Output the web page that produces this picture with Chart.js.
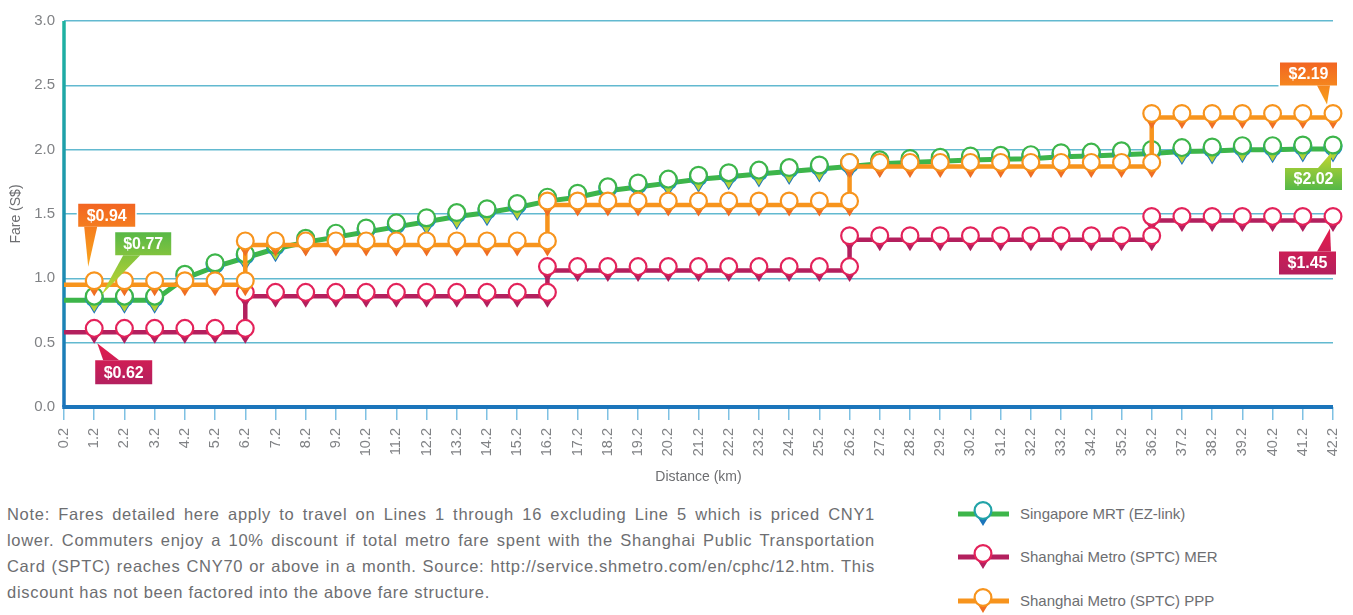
<!DOCTYPE html>
<html>
<head>
<meta charset="utf-8">
<title>Metro fares by distance</title>
<script src="https://cdn.jsdelivr.net/npm/chart.js@4.4.0/dist/chart.umd.min.js"></script>
<style>
    body {
        margin: 0;
        background: #fff;
        width: 1353px;
        height: 615px;
        overflow: hidden;
        position: relative;
        font-family: "Liberation Sans", Arial, sans-serif;
        color: #6d6e71;
    }
    #chartBox {
        position: absolute;
        left: 0;
        top: 0;
        width: 1353px;
        height: 490px;
    }
    #note {
        position: absolute;
        left: 7px;
        top: 501px;
        width: 868px;
        font-size: 16.5px;
        letter-spacing: 0.7px;
        line-height: 26px;
    }
    #note div {
        text-align: justify;
        text-align-last: justify;
        white-space: nowrap;
    }
    #note div.last {
        text-align-last: left;
    }
    .leg-icon {
        position: absolute;
        left: 955px;
        width: 60px;
        height: 40px;
    }
    .leg-text {
        position: absolute;
        left: 1020px;
        font-size: 15px;
        line-height: 20px;
        white-space: nowrap;
    }
</style>
</head>
<body>
<div id="chartBox"><canvas id="fareChart"></canvas></div>

<div id="note">
    <div>Note: Fares detailed here apply to travel on Lines 1 through 16 excluding Line 5 which is priced CNY1</div>
    <div>lower. Commuters enjoy a 10% discount if total metro fare spent with the Shanghai Public Transportation</div>
    <div>Card (SPTC) reaches CNY70 or above in a month. Source: http://service.shmetro.com/en/cphc/12.htm. This</div>
    <div class="last">discount has not been factored into the above fare structure.</div>
</div>

<canvas class="leg-icon" id="leg0" width="60" height="40" style="top:494px"></canvas>
<div class="leg-text" style="top:504px">Singapore MRT (EZ-link)</div>
<canvas class="leg-icon" id="leg1" width="60" height="40" style="top:537px"></canvas>
<div class="leg-text" style="top:547px">Shanghai Metro (SPTC) MER</div>
<canvas class="leg-icon" id="leg2" width="60" height="40" style="top:581px"></canvas>
<div class="leg-text" style="top:591px">Shanghai Metro (SPTC) PPP</div>

<script>
// Distance categories (km)
const distances = ['0.2', '1.2', '2.2', '3.2', '4.2', '5.2', '6.2', '7.2', '8.2', '9.2',
    '10.2', '11.2', '12.2', '13.2', '14.2', '15.2', '16.2', '17.2', '18.2', '19.2',
    '20.2', '21.2', '22.2', '23.2', '24.2', '25.2', '26.2', '27.2', '28.2', '29.2',
    '30.2', '31.2', '32.2', '33.2', '34.2', '35.2', '36.2', '37.2', '38.2', '39.2',
    '40.2', '41.2', '42.2'];

// Fares (S$)
const mrtFares = [0.83, 0.83, 0.83, 0.83, 1.00, 1.09, 1.16, 1.23, 1.28, 1.32,
    1.36, 1.40, 1.44, 1.48, 1.51, 1.55, 1.60, 1.63, 1.68, 1.71,
    1.74, 1.77, 1.79, 1.81, 1.83, 1.85, 1.87, 1.89, 1.90, 1.91,
    1.92, 1.925, 1.93, 1.945, 1.95, 1.96, 1.97, 1.985, 1.99, 2.00,
    2.00, 2.005, 2.005];
const merFares = [0.58, 0.58, 0.58, 0.58, 0.58, 0.58, 0.58, 0.86, 0.86, 0.86,
    0.86, 0.86, 0.86, 0.86, 0.86, 0.86, 0.86, 1.06, 1.06, 1.06,
    1.06, 1.06, 1.06, 1.06, 1.06, 1.06, 1.06, 1.30, 1.30, 1.30,
    1.30, 1.30, 1.30, 1.30, 1.30, 1.30, 1.30, 1.45, 1.45, 1.45,
    1.45, 1.45, 1.45];
const pppFares = [0.95, 0.95, 0.95, 0.95, 0.95, 0.95, 0.95, 1.26, 1.26, 1.26,
    1.26, 1.26, 1.26, 1.26, 1.26, 1.26, 1.26, 1.57, 1.57, 1.57,
    1.57, 1.57, 1.57, 1.57, 1.57, 1.57, 1.57, 1.87, 1.87, 1.87,
    1.87, 1.87, 1.87, 1.87, 1.87, 1.87, 1.87, 2.25, 2.25, 2.25,
    2.25, 2.25, 2.25];

const seriesNames = ['Singapore MRT (EZ-link)', 'Shanghai Metro (SPTC) MER', 'Shanghai Metro (SPTC) PPP'];

// Value callouts: which series / point they belong to and the printed text
const calloutSeries = [2, 0, 1, 2, 0, 1];
const calloutIndex = [1, 1, 1, 42, 42, 42];
const calloutText = ['$0.94', '$0.77', '$0.62', '$2.19', '$2.02', '$1.45'];

// Callout placement relative to their point (pixels)
const calloutLayout = [
    { box: [-16, -81, 57, 23], base: [6, 19, 'bottom'], tip: [-6, -18], colors: ['#f26522', '#f9a61a'] },
    { box: [21, -68, 56, 23], base: [8, 25, 'bottom'], tip: [7, -5], colors: ['#58b847', '#c8d62f'] },
    { box: [1, 28, 57, 24], base: [8, 24, 'top'], tip: [3, 11], colors: ['#e31b4d', '#b3205f'] },
    { box: [-53, -55, 57, 23], base: [37, 50, 'bottom'], tip: [-6, -13], colors: ['#f26522', '#f8a11b'] },
    { box: [-48, 19, 57, 22], base: [33, 46, 'top'], tip: [-2, 4], colors: ['#c3d62f', '#55b848'] },
    { box: [-54, 31, 57, 23], base: [38, 52, 'top'], tip: [-3, 8], colors: ['#e51c4c', '#b3205e'] }
];

// Pin marker colours per series
const pinStyles = [
    { ring: '#3db54a', tipTop: '#7dc243', tipBottom: '#c8d630', under: '#1b75bb' },
    { ring: '#e3225a', tipTop: '#c21f5b', tipBottom: '#ad1f5f' },
    { ring: '#f7941d', tipTop: '#f47b20', tipBottom: '#ee6a23' }
];

// Draw one map-pin marker, (x, cy) is the circle centre
function drawPin(ctx, x, cy, ring, tipTop, tipBottom) {
    const grad = ctx.createLinearGradient(0, cy, 0, cy + 16);
    grad.addColorStop(0, tipTop);
    grad.addColorStop(1, tipBottom);
    ctx.beginPath();
    ctx.moveTo(x - 7, cy + 4);
    ctx.lineTo(x + 7, cy + 4);
    ctx.lineTo(x, cy + 15.5);
    ctx.closePath();
    ctx.fillStyle = grad;
    ctx.fill();

    ctx.beginPath();
    ctx.arc(x, cy, 8.4, 0, Math.PI * 2);
    ctx.fillStyle = '#fff';
    ctx.fill();
    ctx.lineWidth = 2.2;
    ctx.strokeStyle = ring;
    ctx.stroke();
}

function drawSeriesPin(ctx, x, y, st) {
    const cy = y - 4;
    if (st.under) {
        ctx.beginPath();
        ctx.moveTo(x - 7.5, cy + 5);
        ctx.lineTo(x + 7.5, cy + 5);
        ctx.lineTo(x, cy + 17.5);
        ctx.closePath();
        ctx.fillStyle = st.under;
        ctx.fill();
        ctx.beginPath();
        ctx.arc(x, cy + 1.5, 8.6, 0, Math.PI * 2);
        ctx.lineWidth = 2;
        ctx.strokeStyle = '#1b8fbf';
        ctx.stroke();
    }
    drawPin(ctx, x, cy, st.ring, st.tipTop, st.tipBottom);
}

// Pins on every point except the first, plus an extra pin where a stepped line jumps
const pinPlugin = {
    id: 'pins',
    afterDatasetDraw(chart, args) {
        const ds = chart.data.datasets[args.index];
        const st = pinStyles[args.index];
        const ctx = chart.ctx;
        const yScale = chart.scales.y;
        ctx.save();
        args.meta.data.forEach((pt, i) => {
            if (i === 0) return;
            const data = ds.data;
            if (ds.stepped && i < data.length - 1 && data[i + 1] !== data[i]) {
                drawSeriesPin(ctx, pt.x, yScale.getPixelForValue(data[i + 1]), st);
            }
            drawSeriesPin(ctx, pt.x, pt.y, st);
        });
        ctx.restore();
    }
};

// Axis lines: teal-to-blue vertical axis, blue base line
const axisPlugin = {
    id: 'axisLines',
    beforeDatasetsDraw(chart) {
        const ctx = chart.ctx;
        const a = chart.chartArea;
        ctx.save();
        const g = ctx.createLinearGradient(0, a.top, 0, a.bottom);
        g.addColorStop(0, '#1fb3a1');
        g.addColorStop(1, '#1b75bb');
        ctx.strokeStyle = g;
        ctx.lineWidth = 3.5;
        ctx.beginPath();
        ctx.moveTo(a.left, a.top);
        ctx.lineTo(a.left, a.bottom);
        ctx.stroke();
        ctx.strokeStyle = '#1b75bb';
        ctx.lineWidth = 4;
        ctx.beginPath();
        ctx.moveTo(a.left - 1.75, a.bottom);
        ctx.lineTo(a.right, a.bottom);
        ctx.stroke();
        ctx.restore();
    }
};

// Value callout boxes with pointer tails
const calloutPlugin = {
    id: 'callouts',
    afterDraw(chart) {
        const ctx = chart.ctx;
        ctx.save();
        calloutText.forEach((text, k) => {
            const meta = chart.getDatasetMeta(calloutSeries[k]);
            const pt = meta.data[calloutIndex[k]];
            const L = calloutLayout[k];
            const bx = pt.x + L.box[0], by = pt.y + L.box[1], bw = L.box[2], bh = L.box[3];
            const tx = pt.x + L.tip[0], ty = pt.y + L.tip[1];
            const edgeY = L.base[2] === 'bottom' ? by + bh : by;

            const shape = new Path2D();
            shape.rect(bx, by, bw, bh);
            const tail = new Path2D();
            tail.moveTo(bx + L.base[0], edgeY);
            tail.lineTo(tx, ty);
            tail.lineTo(bx + L.base[1], edgeY);
            tail.closePath();

            const top = Math.min(by, ty), bottom = Math.max(by + bh, ty);
            const g = ctx.createLinearGradient(0, top, 0, bottom);
            g.addColorStop(0, L.colors[0]);
            g.addColorStop(1, L.colors[1]);

            ctx.lineWidth = 3;
            ctx.strokeStyle = '#fff';
            ctx.stroke(shape);
            ctx.fillStyle = g;
            ctx.fill(shape);
            ctx.fill(tail);

            ctx.fillStyle = '#fff';
            ctx.font = 'bold 16px "Liberation Sans", Arial, sans-serif';
            ctx.textAlign = 'center';
            ctx.textBaseline = 'middle';
            ctx.fillText(text, bx + bw / 2, by + bh / 2 + 1);
        });
        ctx.restore();
    }
};

const ctx = document.getElementById('fareChart').getContext('2d');
const fareChart = new Chart(ctx, {
    type: 'line',
    data: {
        labels: distances,
        datasets: [{
            label: seriesNames[0],
            data: mrtFares,
            borderColor: '#3db54a',
            borderWidth: 5,
            order: 3
        }, {
            label: seriesNames[1],
            data: merFares,
            borderColor: '#b3205e',
            borderWidth: 4.5,
            stepped: 'after',
            order: 2
        }, {
            label: seriesNames[2],
            data: pppFares,
            borderColor: '#f7941d',
            borderWidth: 4.5,
            stepped: 'after',
            order: 1
        }]
    },
    options: {
        responsive: true,
        maintainAspectRatio: false,
        animation: false,
        events: [],
        layout: {
            padding: { left: 0, top: 21, right: 20, bottom: 0 }
        },
        elements: {
            point: { radius: 0, hoverRadius: 0 },
            line: { tension: 0, borderCapStyle: 'butt', borderJoinStyle: 'miter' }
        },
        plugins: {
            legend: { display: false },
            tooltip: { enabled: false }
        },
        scales: {
            x: {
                grid: {
                    drawOnChartArea: false,
                    drawTicks: true,
                    tickLength: 13,
                    color: '#7fc1e3',
                    lineWidth: 1.5
                },
                border: { display: false },
                ticks: {
                    autoSkip: false,
                    minRotation: 90,
                    maxRotation: 90,
                    padding: 8,
                    color: '#808285',
                    font: { size: 14.5, family: '"Liberation Sans", Arial, sans-serif' }
                },
                title: {
                    display: true,
                    text: 'Distance (km)',
                    color: '#6d6e71',
                    padding: { top: 0, bottom: 4 },
                    font: { size: 14, family: '"Liberation Sans", Arial, sans-serif' }
                },
                afterFit(scale) {
                    scale.height = 83;
                    scale.paddingLeft = 0;
                    scale.paddingRight = 0;
                }
            },
            y: {
                min: 0,
                max: 3,
                grid: {
                    drawTicks: false,
                    color: '#62b9d0',
                    lineWidth: 1.5
                },
                border: { display: false },
                ticks: {
                    stepSize: 0.5,
                    padding: 9,
                    color: '#808285',
                    font: { size: 15, family: '"Liberation Sans", Arial, sans-serif' },
                    callback: function(value) {
                        return value.toFixed(1);
                    }
                },
                title: {
                    display: true,
                    text: 'Fare (S$)',
                    color: '#6d6e71',
                    padding: { top: 8, bottom: 0 },
                    font: { size: 14, family: '"Liberation Sans", Arial, sans-serif' }
                },
                afterFit(scale) { scale.width = 64; }
            }
        }
    },
    plugins: [axisPlugin, pinPlugin, calloutPlugin]
});

// Legend icons drawn with the same pin shape
const legendIcons = [
    { line: '#3db54a', ring: '#22a3a8', tipTop: '#1b75bb', tipBottom: '#1b75bb' },
    { line: '#b3205e', ring: '#e3225a', tipTop: '#c21f5b', tipBottom: '#ad1f5f' },
    { line: '#f7941d', ring: '#f7941d', tipTop: '#f47b20', tipBottom: '#ee6a23' }
];
legendIcons.forEach((icon, i) => {
    const c = document.getElementById('leg' + i).getContext('2d');
    c.strokeStyle = icon.line;
    c.lineWidth = 5;
    c.beginPath();
    c.moveTo(3, 20);
    c.lineTo(54, 20);
    c.stroke();
    drawPin(c, 28, 16.5, icon.ring, icon.tipTop, icon.tipBottom);
});
</script>
</body>
</html>
